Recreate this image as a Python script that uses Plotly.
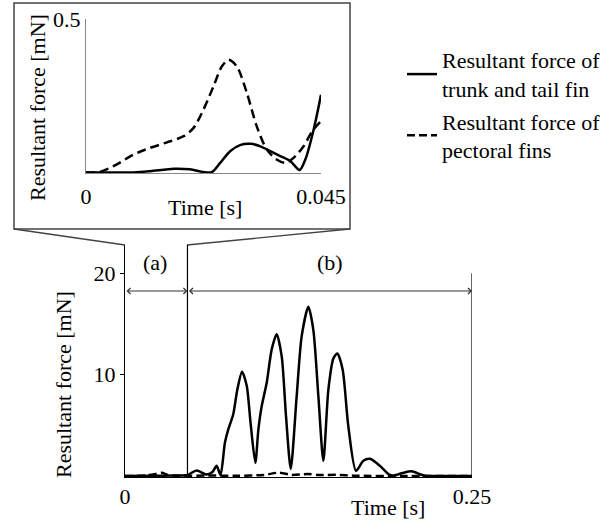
import plotly.graph_objects as go

W, H = 614, 523
FONT = "Liberation Serif"

# ---------------- data ----------------
# main plot (0 - 0.25 s), resultant force [mN]
t_trunk = [0, 0.02, 0.035, 0.045, 0.0516, 0.0586, 0.063, 0.066, 0.0688,
           0.0720, 0.0744, 0.0780, 0.0809, 0.0843, 0.0877, 0.0905, 0.0939,
           0.0961, 0.0985, 0.1021, 0.1057, 0.1093, 0.1129, 0.1160, 0.1194,
           0.1237, 0.1273, 0.1321, 0.1357, 0.1393, 0.1429,
           0.1465, 0.1501, 0.1530, 0.1568, 0.1609, 0.1664,
           0.1717, 0.1765, 0.1837, 0.1897, 0.1933, 0.2000, 0.2065, 0.2120, 0.2161, 0.23, 0.25]
f_trunk = [0.0, 0.02, 0.05, 0.1, 0.55, 0.15, 0.4, 1.0, 0.1,
           3.3, 4.6, 6.1, 8.5, 10.3, 8.9, 5.2, 1.3,
           4.6, 6.9, 9.2, 12.5, 14.0, 11.8, 5.9, 0.7,
           7.9, 13.8, 16.7, 14.4, 7.9, 1.5,
           8.5, 11.6, 12.1, 10.5, 4.9, 0.5,
           1.5, 1.7, 1.0, 0.2, 0.05, 0.3, 0.46, 0.2, 0.02, 0.0, 0.0]

t_pect = [0, 0.015, 0.022, 0.0264, 0.031, 0.04, 0.06, 0.08, 0.1, 0.111,
          0.12, 0.132, 0.14, 0.152, 0.165, 0.2, 0.25]
f_pect = [0.0, 0.05, 0.2, 0.33, 0.1, 0.02, 0.05, 0.02, 0.1, 0.33,
          0.1, 0.2, 0.1, 0.12, 0.03, 0.0, 0.0]

# inset (0 - 0.045 s), resultant force [mN]
t_trunk_in = [0, 0.0091, 0.0123, 0.0168, 0.0199, 0.0225, 0.0241, 0.0257,
              0.0276, 0.0295, 0.0315, 0.0334, 0.0353, 0.0372, 0.0391,
              0.0409, 0.0420, 0.0436, 0.045]
f_trunk_in = [0.0, 0.0, 0.004, 0.012, 0.010, 0.001, 0.001, 0.031,
              0.069, 0.089, 0.093, 0.085, 0.069, 0.053, 0.037,
              0.008, 0.042, 0.140, 0.253]

t_pect_in = [0, 0.0027, 0.0059, 0.0091, 0.0123, 0.0155, 0.0187, 0.0206,
             0.0225, 0.0244, 0.0260, 0.0273, 0.0289, 0.0308, 0.0327,
             0.0346, 0.0365, 0.0382, 0.0398, 0.0417, 0.0433, 0.045]
f_pect_in = [0.0, 0.002, 0.026, 0.058, 0.080, 0.098, 0.118, 0.145,
             0.205, 0.280, 0.345, 0.367, 0.345, 0.259, 0.150,
             0.075, 0.042, 0.031, 0.048, 0.086, 0.134, 0.167]

main_xticks = [0, 0.25]
main_xticktext = ["0", "0.25"]
main_yticks = [10, 20]
inset_xticks = [0, 0.045]
inset_xticktext = ["0", "0.045"]
inset_yticks = [0.5]

name_trunk = "Resultant force of<br>trunk and tail fin"
name_pect = "Resultant force of<br>pectoral fins"

# ---------------- helpers ----------------
def px(x):
    return x / W


def py(y):
    return 1 - y / H


fig = go.Figure()

fig.add_trace(go.Scatter(x=t_trunk, y=f_trunk, mode="lines", name=name_trunk,
                         line=dict(color="black", width=2.5, shape="spline", smoothing=0.7),
                         legendgroup="a"))
fig.add_trace(go.Scatter(x=t_pect, y=f_pect, mode="lines", name=name_pect,
                         line=dict(color="black", width=2.5, dash="8px,4px",
                                   shape="spline", smoothing=0.7),
                         legendgroup="b"))
fig.add_trace(go.Scatter(x=t_trunk_in, y=f_trunk_in, mode="lines", showlegend=False,
                         line=dict(color="black", width=2.5, shape="spline", smoothing=0.8),
                         xaxis="x2", yaxis="y2"))
fig.add_trace(go.Scatter(x=t_pect_in, y=f_pect_in, mode="lines", showlegend=False,
                         line=dict(color="black", width=2.5, dash="9px,5px",
                                   shape="spline", smoothing=0.8),
                         xaxis="x2", yaxis="y2"))

tickfont = dict(family=FONT, size=22, color="black")

fig.update_layout(
    width=W, height=H,
    margin=dict(l=0, r=0, t=0, b=0, autoexpand=False),
    paper_bgcolor="white", plot_bgcolor="white",
    font=dict(family=FONT, size=22, color="black"),
    xaxis=dict(domain=[px(125), px(472)], range=[0, 0.25], showgrid=False,
               zeroline=False, showline=True, linecolor="black", linewidth=1,
               tickvals=main_xticks, ticktext=main_xticktext, ticks="",
               tickfont=tickfont, ticklabelstandoff=0, anchor="y"),
    yaxis=dict(domain=[py(477), py(245)], range=[-0.1, 22.8], showgrid=False,
               zeroline=False, showline=True, linecolor="black", linewidth=1,
               tickvals=main_yticks, ticks="outside", ticklen=4, tickcolor="black",
               tickfont=tickfont, anchor="x"),
    xaxis2=dict(domain=[px(86), px(321)], range=[0, 0.045], showgrid=False,
                zeroline=False, showline=True, linecolor="#888", linewidth=1,
                tickvals=inset_xticks, ticktext=inset_xticktext, ticks="inside",
                ticklen=5, tickcolor="#888", tickfont=tickfont,
                ticklabelstandoff=4, anchor="y2"),
    yaxis2=dict(domain=[py(173), py(19)], range=[-0.002, 0.5], showgrid=False,
                zeroline=False, showline=True, linecolor="#888", linewidth=1,
                tickvals=inset_yticks, ticks="inside", ticklen=5, tickcolor="#888",
                tickfont=tickfont, anchor="x2"),
    legend=dict(x=px(402), y=py(39), xanchor="left", yanchor="top",
                font=dict(family=FONT, size=22, color="black"),
                bgcolor="rgba(0,0,0,0)", tracegroupgap=1, valign="middle"),
)

line_col = "#444"
fig.add_shape(type="rect", xref="paper", yref="paper",
              x0=px(14), x1=px(350), y0=py(229), y1=py(3),
              line=dict(color=line_col, width=1.5))
fig.add_shape(type="line", xref="paper", yref="paper",
              x0=px(14), y0=py(229), x1=px(125), y1=py(245),
              line=dict(color=line_col, width=1.3))
fig.add_shape(type="line", xref="paper", yref="paper",
              x0=px(350), y0=py(229), x1=px(187), y1=py(245),
              line=dict(color=line_col, width=1.3))
# boundary lines of phases (a) and (b)
fig.add_shape(type="line", xref="x", yref="y", x0=0.045, x1=0.045, y0=0, y1=22.8,
              line=dict(color="black", width=1.2))
fig.add_shape(type="line", xref="x", yref="y", x0=0.25, x1=0.25, y0=0, y1=20,
              line=dict(color="black", width=1.2))

arrow_y = 18.26
for x0, x1, lab in [(0, 0.045, "(a)"), (0.045, 0.25, "(b)")]:
    fig.add_annotation(x=x1, y=arrow_y, ax=x0, ay=arrow_y, xref="x", yref="y",
                       axref="x", ayref="y", text="", showarrow=True,
                       arrowside="end+start", arrowhead=4, startarrowhead=4,
                       arrowsize=1.2, startarrowsize=1.2, arrowwidth=1,
                       arrowcolor="#333", standoff=0, startstandoff=0)
    fig.add_annotation(x=(x0 + x1) / 2 if lab == "(b)" else 0.0216, y=21.1,
                       xref="x", yref="y", text=lab, showarrow=False,
                       xanchor="center", yanchor="middle",
                       font=dict(family=FONT, size=22, color="black"))

# axis titles
def title(txt, x, y, angle=0):
    fig.add_annotation(x=px(x), y=py(y), xref="paper", yref="paper",
                       text=txt, textangle=angle, showarrow=False,
                       xanchor="center", yanchor="middle",
                       font=dict(family=FONT, size=22, color="black"))


title("Resultant force [mN]", 63, 385, -90)
title("Time [s]", 388, 507)
title("Resultant force [mN]", 38, 108, -90)
title("Time [s]", 205, 207)

fig.write_html("out.html", config={"displayModeBar": False},
               post_script="document.body.style.margin='0';")
